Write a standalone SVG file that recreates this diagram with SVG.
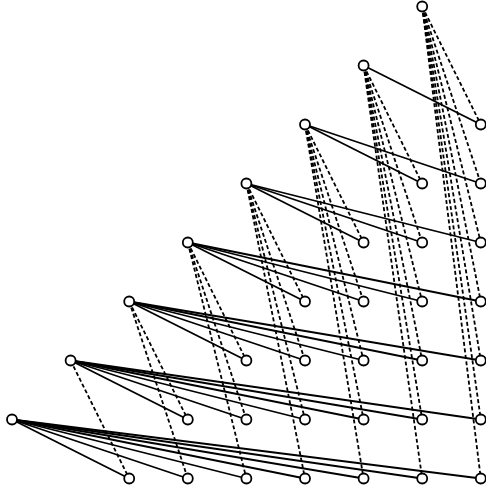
<svg xmlns="http://www.w3.org/2000/svg" width="486" height="488" viewBox="0 0 486 488">
<style>
.bg{fill:#fff}
.s{stroke:#000;stroke-width:1.8;fill:none}
.d{stroke:#000;stroke-width:1.8;fill:none;stroke-dasharray:4,2.5}
.n{fill:#fff;stroke:#000;stroke-width:1.8}
</style>
<rect class="bg" x="0" y="0" width="486" height="488"/>
<g id="connectors">
<line class="s" x1="12" y1="419.5" x2="129.2" y2="478.5"/>
<line class="s" x1="12" y1="419.5" x2="187.8" y2="478.5"/>
<line class="s" x1="12" y1="419.5" x2="246.4" y2="478.5"/>
<line class="s" x1="12" y1="419.5" x2="305" y2="478.5"/>
<line class="s" x1="12" y1="419.5" x2="363.6" y2="478.5"/>
<line class="s" x1="12" y1="419.5" x2="422.2" y2="478.5"/>
<line class="s" x1="12" y1="419.5" x2="480.8" y2="478.5"/>
<line class="s" x1="70.6" y1="360.5" x2="187.8" y2="419.5"/>
<line class="s" x1="70.6" y1="360.5" x2="246.4" y2="419.5"/>
<line class="s" x1="70.6" y1="360.5" x2="305" y2="419.5"/>
<line class="s" x1="70.6" y1="360.5" x2="363.6" y2="419.5"/>
<line class="s" x1="70.6" y1="360.5" x2="422.2" y2="419.5"/>
<line class="s" x1="70.6" y1="360.5" x2="480.8" y2="419.5"/>
<line class="s" x1="129.2" y1="301.5" x2="246.4" y2="360.5"/>
<line class="s" x1="129.2" y1="301.5" x2="305" y2="360.5"/>
<line class="s" x1="129.2" y1="301.5" x2="363.6" y2="360.5"/>
<line class="s" x1="129.2" y1="301.5" x2="422.2" y2="360.5"/>
<line class="s" x1="129.2" y1="301.5" x2="480.8" y2="360.5"/>
<line class="s" x1="187.8" y1="242.5" x2="305" y2="301.5"/>
<line class="s" x1="187.8" y1="242.5" x2="363.6" y2="301.5"/>
<line class="s" x1="187.8" y1="242.5" x2="422.2" y2="301.5"/>
<line class="s" x1="187.8" y1="242.5" x2="480.8" y2="301.5"/>
<line class="s" x1="246.4" y1="183.5" x2="363.6" y2="242.5"/>
<line class="s" x1="246.4" y1="183.5" x2="422.2" y2="242.5"/>
<line class="s" x1="246.4" y1="183.5" x2="480.8" y2="242.5"/>
<line class="s" x1="305" y1="124.5" x2="422.2" y2="183.5"/>
<line class="s" x1="305" y1="124.5" x2="480.8" y2="183.5"/>
<line class="s" x1="363.6" y1="65.5" x2="480.8" y2="124.5"/>
<line class="d" x1="70.6" y1="360.5" x2="129.2" y2="478.5"/>
<line class="d" x1="129.2" y1="301.5" x2="187.8" y2="478.5"/>
<line class="d" x1="129.2" y1="301.5" x2="187.8" y2="419.5"/>
<line class="d" x1="187.8" y1="242.5" x2="246.4" y2="478.5"/>
<line class="d" x1="187.8" y1="242.5" x2="246.4" y2="419.5"/>
<line class="d" x1="187.8" y1="242.5" x2="246.4" y2="360.5"/>
<line class="d" x1="246.4" y1="183.5" x2="305" y2="478.5"/>
<line class="d" x1="246.4" y1="183.5" x2="305" y2="419.5"/>
<line class="d" x1="246.4" y1="183.5" x2="305" y2="360.5"/>
<line class="d" x1="246.4" y1="183.5" x2="305" y2="301.5"/>
<line class="d" x1="305" y1="124.5" x2="363.6" y2="478.5"/>
<line class="d" x1="305" y1="124.5" x2="363.6" y2="419.5"/>
<line class="d" x1="305" y1="124.5" x2="363.6" y2="360.5"/>
<line class="d" x1="305" y1="124.5" x2="363.6" y2="301.5"/>
<line class="d" x1="305" y1="124.5" x2="363.6" y2="242.5"/>
<line class="d" x1="363.6" y1="65.5" x2="422.2" y2="478.5"/>
<line class="d" x1="363.6" y1="65.5" x2="422.2" y2="419.5"/>
<line class="d" x1="363.6" y1="65.5" x2="422.2" y2="360.5"/>
<line class="d" x1="363.6" y1="65.5" x2="422.2" y2="301.5"/>
<line class="d" x1="363.6" y1="65.5" x2="422.2" y2="242.5"/>
<line class="d" x1="363.6" y1="65.5" x2="422.2" y2="183.5"/>
<line class="d" x1="422.2" y1="6.5" x2="480.8" y2="478.5"/>
<line class="d" x1="422.2" y1="6.5" x2="480.8" y2="419.5"/>
<line class="d" x1="422.2" y1="6.5" x2="480.8" y2="360.5"/>
<line class="d" x1="422.2" y1="6.5" x2="480.8" y2="301.5"/>
<line class="d" x1="422.2" y1="6.5" x2="480.8" y2="242.5"/>
<line class="d" x1="422.2" y1="6.5" x2="480.8" y2="183.5"/>
<line class="d" x1="422.2" y1="6.5" x2="480.8" y2="124.5"/>
</g>
<g id="s0"><circle class="n" cx="12" cy="419.5" r="5"/></g>
<g id="s1"><circle class="n" cx="70.6" cy="360.5" r="5"/></g>
<g id="s2"><circle class="n" cx="129.2" cy="301.5" r="5"/></g>
<g id="s3"><circle class="n" cx="187.8" cy="242.5" r="5"/></g>
<g id="s4"><circle class="n" cx="246.4" cy="183.5" r="5"/></g>
<g id="s5"><circle class="n" cx="305" cy="124.5" r="5"/></g>
<g id="s6"><circle class="n" cx="363.6" cy="65.5" r="5"/></g>
<g id="s7"><circle class="n" cx="422.2" cy="6.5" r="5"/></g>
<g id="n0_0"><circle class="n" cx="129.2" cy="478.5" r="5"/></g>
<g id="n0_1"><circle class="n" cx="187.8" cy="478.5" r="5"/></g>
<g id="n0_2"><circle class="n" cx="246.4" cy="478.5" r="5"/></g>
<g id="n0_3"><circle class="n" cx="305" cy="478.5" r="5"/></g>
<g id="n0_4"><circle class="n" cx="363.6" cy="478.5" r="5"/></g>
<g id="n0_5"><circle class="n" cx="422.2" cy="478.5" r="5"/></g>
<g id="n0_6"><circle class="n" cx="480.8" cy="478.5" r="5"/></g>
<g id="n1_1"><circle class="n" cx="187.8" cy="419.5" r="5"/></g>
<g id="n1_2"><circle class="n" cx="246.4" cy="419.5" r="5"/></g>
<g id="n1_3"><circle class="n" cx="305" cy="419.5" r="5"/></g>
<g id="n1_4"><circle class="n" cx="363.6" cy="419.5" r="5"/></g>
<g id="n1_5"><circle class="n" cx="422.2" cy="419.5" r="5"/></g>
<g id="n1_6"><circle class="n" cx="480.8" cy="419.5" r="5"/></g>
<g id="n2_2"><circle class="n" cx="246.4" cy="360.5" r="5"/></g>
<g id="n2_3"><circle class="n" cx="305" cy="360.5" r="5"/></g>
<g id="n2_4"><circle class="n" cx="363.6" cy="360.5" r="5"/></g>
<g id="n2_5"><circle class="n" cx="422.2" cy="360.5" r="5"/></g>
<g id="n2_6"><circle class="n" cx="480.8" cy="360.5" r="5"/></g>
<g id="n3_3"><circle class="n" cx="305" cy="301.5" r="5"/></g>
<g id="n3_4"><circle class="n" cx="363.6" cy="301.5" r="5"/></g>
<g id="n3_5"><circle class="n" cx="422.2" cy="301.5" r="5"/></g>
<g id="n3_6"><circle class="n" cx="480.8" cy="301.5" r="5"/></g>
<g id="n4_4"><circle class="n" cx="363.6" cy="242.5" r="5"/></g>
<g id="n4_5"><circle class="n" cx="422.2" cy="242.5" r="5"/></g>
<g id="n4_6"><circle class="n" cx="480.8" cy="242.5" r="5"/></g>
<g id="n5_5"><circle class="n" cx="422.2" cy="183.5" r="5"/></g>
<g id="n5_6"><circle class="n" cx="480.8" cy="183.5" r="5"/></g>
<g id="n6_6"><circle class="n" cx="480.8" cy="124.5" r="5"/></g>
</svg>
